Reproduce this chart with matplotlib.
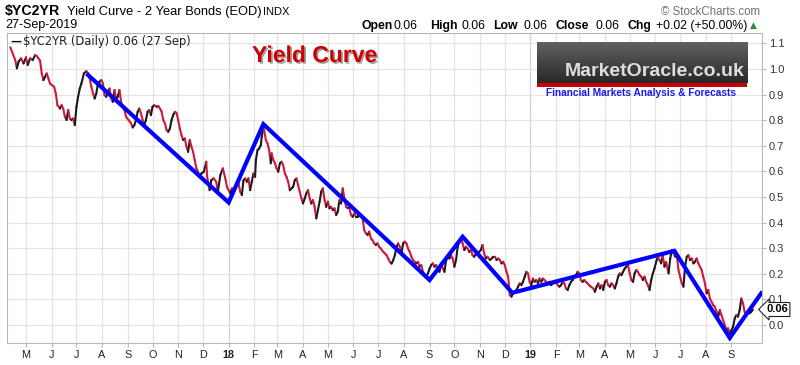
"""$YC2YR yield curve chart (StockCharts style) with hand-drawn trendline."""

import numpy as np
import pandas as pd
import matplotlib
matplotlib.use("Agg")
import matplotlib.pyplot as plt
import matplotlib.patheffects as pe
from matplotlib.collections import LineCollection
from matplotlib.patches import Rectangle

plt.rcParams["font.family"] = ["Liberation Sans", "DejaVu Sans"]

START = pd.Timestamp("2017-04-08")

# days after START and the $YC2YR close at each turn
days = [
    4, 10, 12, 14, 17, 20, 23, 25, 28, 31, 34, 36, 38, 40, 42, 44, 46, 48, 50, 52,
    54, 57, 59, 61, 64, 66, 68, 70, 72, 74, 76, 78, 80, 82, 84, 86, 88, 90, 93, 96,
    98, 100, 102, 104, 106, 108, 110, 112, 114, 116, 118, 120, 122, 124, 126, 128, 130, 132, 134, 136,
    138, 140, 142, 144, 147, 150, 152, 154, 156, 158, 160, 162, 164, 166, 168, 170, 172, 174, 176, 178,
    181, 183, 185, 187, 189, 191, 193, 195, 197, 199, 201, 203, 205, 207, 209, 211, 213, 215, 217, 219,
    221, 223, 225, 227, 229, 231, 233, 235, 238, 241, 242, 245, 247, 250, 253, 255, 258, 261, 264, 266,
    270, 272, 274, 276, 278, 280, 282, 284, 286, 288, 290, 292, 294, 296, 298, 300, 301, 303, 305, 307,
    308, 310, 311, 313, 315, 317, 319, 320, 322, 324, 326, 328, 330, 332, 334, 336, 338, 340, 342, 344,
    346, 348, 350, 352, 354, 356, 358, 360, 362, 364, 366, 368, 370, 372, 374, 376, 378, 380, 382, 384,
    386, 388, 390, 392, 394, 396, 398, 400, 402, 404, 406, 408, 410, 412, 414, 416, 418, 420, 422, 424,
    426, 428, 430, 432, 434, 436, 438, 440, 442, 444, 446, 448, 450, 452, 455, 457, 459, 461, 463, 465,
    467, 469, 471, 473, 475, 477, 479, 481, 483, 485, 487, 489, 491, 493, 495, 497, 499, 501, 503, 505,
    507, 509, 511, 513, 515, 517, 519, 521, 523, 525, 527, 529, 531, 533, 535, 537, 539, 541, 543, 545,
    547, 549, 551, 553, 555, 557, 559, 561, 563, 565, 567, 569, 571, 573, 575, 577, 579, 581, 584, 586,
    588, 590, 592, 594, 596, 598, 600, 602, 604, 606, 608, 610, 612, 614, 616, 618, 620, 622, 624, 626,
    628, 630, 632, 634, 636, 638, 640, 642, 644, 646, 648, 650, 652, 654, 656, 658, 660, 662, 664, 666,
    668, 670, 672, 674, 676, 678, 680, 682, 684, 686, 688, 690, 692, 694, 696, 698, 700, 702, 704, 706,
    709, 711, 713, 715, 717, 719, 721, 723, 725, 727, 729, 731, 733, 735, 737, 739, 741, 743, 745, 747,
    749, 751, 753, 755, 757, 759, 761, 763, 765, 767, 769, 771, 773, 775, 777, 779, 781, 783, 785, 787,
    789, 791, 793, 795, 797, 800, 802, 804, 806, 808, 810, 812, 814, 816, 818, 820, 822, 824, 826, 828,
    830, 832, 834, 836, 838, 840, 842, 844, 846, 848, 850, 852, 854, 856, 858, 860, 862, 864, 866, 868,
    870, 872, 874, 876, 878, 880, 882, 884, 886, 888, 890, 892, 894, 896, 898, 900, 902,
]
yields = [
    1.085, 1.035, 1.003, 1.029, 1.042, 1.022, 1.046, 1.016, 1.042, 1.035, 1.055, 1.051, 1.042, 1.033, 0.983, 0.957, 0.970, 0.983, 0.964, 0.944,
    0.938, 0.931, 0.905, 0.859, 0.846, 0.859, 0.846, 0.814, 0.801, 0.840, 0.807, 0.801, 0.807, 0.781, 0.853, 0.892, 0.924, 0.944, 0.983, 0.992,
    0.983, 0.964, 0.931, 0.905, 0.885, 0.905, 0.944, 0.951, 0.957, 0.944, 0.898, 0.892, 0.911, 0.924, 0.885, 0.872, 0.918, 0.885, 0.892, 0.918,
    0.872, 0.853, 0.840, 0.814, 0.801, 0.788, 0.772, 0.781, 0.801, 0.833, 0.846, 0.827, 0.801, 0.781, 0.801, 0.833, 0.840, 0.820, 0.853, 0.859,
    0.853, 0.855, 0.846, 0.833, 0.801, 0.788, 0.762, 0.755, 0.768, 0.801, 0.820, 0.833, 0.829, 0.801, 0.768, 0.742, 0.723, 0.729, 0.697, 0.677,
    0.723, 0.697, 0.677, 0.645, 0.612, 0.599, 0.579, 0.592, 0.599, 0.638, 0.580, 0.527, 0.566, 0.573, 0.560, 0.521, 0.586, 0.612, 0.573, 0.540,
    0.514, 0.534, 0.521, 0.534, 0.560, 0.553, 0.521, 0.508, 0.566, 0.573, 0.560, 0.573, 0.527, 0.560, 0.592, 0.579, 0.645, 0.684, 0.690, 0.703,
    0.736, 0.768, 0.762, 0.723, 0.710, 0.684, 0.632, 0.671, 0.645, 0.632, 0.612, 0.599, 0.632, 0.638, 0.625, 0.592, 0.579, 0.560, 0.527, 0.534,
    0.540, 0.566, 0.573, 0.547, 0.521, 0.495, 0.475, 0.495, 0.514, 0.527, 0.495, 0.475, 0.488, 0.462, 0.417, 0.449, 0.482, 0.521, 0.534, 0.488,
    0.462, 0.482, 0.456, 0.462, 0.449, 0.456, 0.430, 0.443, 0.488, 0.475, 0.534, 0.495, 0.462, 0.456, 0.456, 0.430, 0.423, 0.436, 0.423, 0.423,
    0.436, 0.430, 0.417, 0.371, 0.358, 0.352, 0.365, 0.339, 0.332, 0.319, 0.313, 0.319, 0.306, 0.299, 0.286, 0.280, 0.273, 0.260, 0.247, 0.240,
    0.253, 0.273, 0.306, 0.319, 0.306, 0.280, 0.319, 0.326, 0.319, 0.299, 0.286, 0.267, 0.254, 0.247, 0.241, 0.247, 0.228, 0.234, 0.208, 0.195,
    0.189, 0.202, 0.221, 0.234, 0.241, 0.228, 0.234, 0.215, 0.208, 0.241, 0.221, 0.208, 0.254, 0.267, 0.260, 0.273, 0.260, 0.228, 0.254, 0.306,
    0.332, 0.339, 0.319, 0.293, 0.306, 0.299, 0.286, 0.293, 0.273, 0.267, 0.280, 0.273, 0.286, 0.293, 0.313, 0.280, 0.260, 0.267, 0.254, 0.260,
    0.267, 0.267, 0.254, 0.260, 0.254, 0.241, 0.247, 0.234, 0.208, 0.189, 0.117, 0.111, 0.124, 0.130, 0.137, 0.150, 0.163, 0.156, 0.169, 0.189,
    0.208, 0.202, 0.169, 0.156, 0.182, 0.169, 0.176, 0.163, 0.182, 0.169, 0.182, 0.176, 0.169, 0.163, 0.169, 0.156, 0.163, 0.163, 0.169, 0.156,
    0.150, 0.156, 0.169, 0.163, 0.143, 0.137, 0.156, 0.169, 0.176, 0.189, 0.195, 0.208, 0.202, 0.176, 0.169, 0.176, 0.169, 0.163, 0.156, 0.150,
    0.143, 0.130, 0.150, 0.163, 0.143, 0.156, 0.137, 0.169, 0.176, 0.156, 0.150, 0.163, 0.156, 0.143, 0.163, 0.189, 0.202, 0.195, 0.208, 0.221,
    0.228, 0.234, 0.202, 0.176, 0.169, 0.202, 0.215, 0.208, 0.195, 0.189, 0.176, 0.189, 0.169, 0.156, 0.137, 0.176, 0.202, 0.221, 0.247, 0.267,
    0.254, 0.241, 0.273, 0.228, 0.247, 0.202, 0.260, 0.293, 0.280, 0.267, 0.273, 0.215, 0.189, 0.163, 0.150, 0.228, 0.267, 0.273, 0.254, 0.260,
    0.241, 0.247, 0.260, 0.241, 0.228, 0.215, 0.189, 0.163, 0.124, 0.137, 0.104, 0.091, 0.078, 0.072, 0.052, 0.033, 0.059, 0.039, 0.020, 0.000,
    -0.020, -0.013, -0.033, -0.020, -0.007, 0.026, 0.039, 0.033, 0.059, 0.104, 0.085, 0.052, 0.039, 0.052, 0.046, 0.052, 0.060,
]

# blue trendline drawn over the chart
trend_days = [98, 268, 310, 511, 551, 611, 807, 874, 912]
trend_vals = [0.977, 0.479, 0.785, 0.176, 0.345, 0.126, 0.290, -0.050, 0.124]

ytick_vals = [0.0, 0.1, 0.2, 0.3, 0.4, 0.5, 0.6, 0.7, 0.8, 0.9, 1.0, 1.1]
months = pd.date_range("2017-05-01", "2019-09-01", freq="MS")

W, H = 800, 365


def fx(px):
    return px / W


def fy(py):
    return 1 - py / H


fig = plt.figure(figsize=(W / 100, H / 100), dpi=100)
ax = fig.add_axes([fx(7), fy(343), fx(762 - 7), (343 - 33) / H])

ax.set_xlim(0, 913)
ax.set_ylim(-0.070, 1.141)

# grid
month_x = [(m - START).days for m in months]
for m, x in zip(months, month_x):
    ax.axvline(x, color="#d2d2d2" if m.month == 1 else "#e4e4e4", lw=0.9, zorder=0)
for v in ytick_vals:
    ax.axhline(v, color="#e4e4e4", lw=0.9, zorder=0)

# price line: black on up moves, red on down moves
pts = np.column_stack([days, yields])
segs = np.stack([pts[:-1], pts[1:]], axis=1)
cols = ["#1a1a1a" if b >= a else "#d0183c" for a, b in zip(yields[:-1], yields[1:])]
ax.add_collection(LineCollection(segs, colors=cols, linewidths=1.5, zorder=2,
                                 capstyle="round", joinstyle="round"))

ax.plot(trend_days, trend_vals, color="#0000ff", lw=3.0, zorder=3,
        solid_joinstyle="miter")

# axes
for s in ax.spines.values():
    s.set_color("#b8b8b8")
    s.set_linewidth(0.8)
ax.yaxis.tick_right()
ax.set_yticks(ytick_vals)
ax.set_yticklabels([f"{v:.1f}" for v in ytick_vals])
ax.tick_params(axis="y", labelsize=8, colors="#b8b8b8", labelcolor="#333333",
               length=3, pad=2)
ax.set_xticks(month_x)
ax.set_xticklabels([str(m.year)[2:] if m.month == 1 else m.strftime("%b")[0]
                    for m in months])
ax.tick_params(axis="x", labelsize=7.8, colors="#b8b8b8", labelcolor="#222222",
               length=3, pad=2)
for lbl, m in zip(ax.get_xticklabels(), months):
    if m.month == 1:
        lbl.set_fontweight("bold")

# header
fig.text(fx(5), fy(15), "$YC2YR", fontsize=10.2, fontweight="bold", va="baseline")
fig.text(fx(67), fy(15), "Yield Curve - 2 Year Bonds (EOD)", fontsize=9.3, va="baseline")
fig.text(fx(263), fy(15), "INDX", fontsize=8, va="baseline")
fig.text(fx(5), fy(28), "27-Sep-2019", fontsize=9, va="baseline")
fig.text(fx(760), fy(15), "\u00a9 StockCharts.com", fontsize=8.3, color="#707070",
         ha="right", va="baseline")

quote = [(362, "Open", True), (394, "0.06", False), (430, "High", True), (461, "0.06", False),
         (493, "Low", True), (523, "0.06", False), (556, "Close", True), (595, "0.06", False),
         (628, "Chg", True), (656, "+0.02 (+50.00%)", False)]
for x, t, bold in quote:
    fig.text(fx(x), fy(29), t, fontsize=8.8, va="baseline",
             fontweight="bold" if bold else "normal")
fig.text(fx(750), fy(28), "\u25b2", fontsize=6.5, color="#2e8b3a", va="baseline",
         family="DejaVu Sans")

# legend inside the plot
fig.text(fx(10), fy(45), "\u2014", fontsize=8, fontweight="bold", va="baseline",
         family="DejaVu Sans")
fig.text(fx(23), fy(45), "$YC2YR (Daily) 0.06 (27 Sep)", fontsize=8.3, va="baseline",
         family="DejaVu Sans", color="#222222")

fig.text(fx(252), fy(62), "Yield Curve", fontsize=16.5, fontweight="bold",
         color="#cc0000", va="baseline",
         path_effects=[pe.withSimplePatchShadow(offset=(1.2, -1.2),
                                                shadow_rgbFace="#444444", alpha=0.5)])

# MarketOracle logo box
logo = fig.add_axes([fx(537), fy(83), fx(747 - 537), (83 - 42) / H])
grad = np.linspace(0.38, 0.16, 50)[:, None] * np.ones((1, 10))
logo.imshow(grad, cmap="gray", vmin=0, vmax=1, aspect="auto", extent=(0, 1, 0, 1))
logo.set_axis_off()
fig.patches.append(Rectangle((fx(537), fy(87)), fx(747 - 537), 4 / H,
                             transform=fig.transFigure, fc="#cc0000", ec="none"))
fig.text(fx(745), fy(76), "MarketOracle.co.uk", fontsize=14, fontweight="bold",
         color="#dedede", ha="right", va="baseline")
fig.text(fx(641), fy(96), "Financial Markets Analysis & Forecasts", fontsize=7.3,
         fontweight="bold", color="#1a1aee", ha="center", va="baseline")

# last value tag
fig.text(fx(777), fy(309.5), "0.06", fontsize=8, fontweight="bold", ha="center",
         va="center",
         bbox=dict(boxstyle="larrow,pad=0.18", fc="white", ec="#222222", lw=0.8))

fig.savefig("out.png", dpi=100)
